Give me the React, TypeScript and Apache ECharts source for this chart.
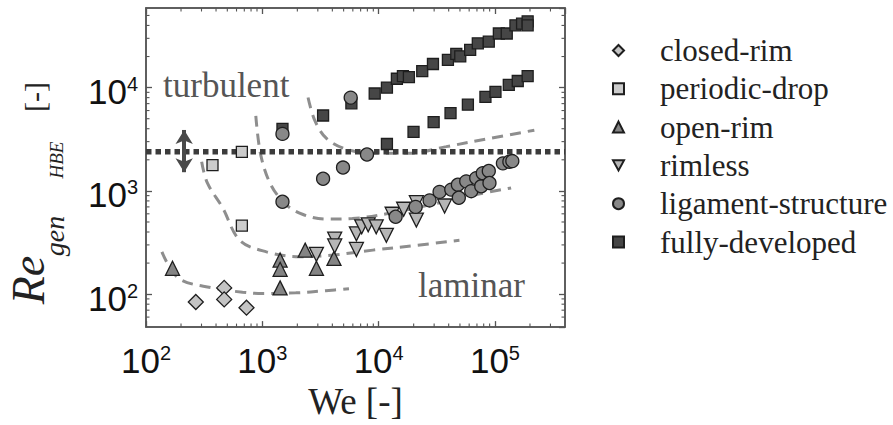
import { useEffect, useRef } from "react";
import * as echarts from "echarts";

// ---- data (We, Re_gen HBE) ----
const closedRimWe = [268, 470, 470, 731];
const closedRimRe = [84, 115, 89, 74];

const periodicDropWe = [373, 667, 667];
const periodicDropRe = [1780, 2390, 461];

const openRimWe = [169, 1422, 1422, 1422, 2335, 2918, 4130];
const openRimRe = [178, 214, 174, 115, 267, 178, 222];

const rimlessWe = [2918, 4190, 4190, 6440, 6440, 7150, 8130, 9530, 11650, 13060, 16400, 21100, 21100, 36900];
const rimlessRe = [243, 341, 293, 384, 271, 449, 469, 449, 371, 594, 664, 769, 521, 714];

const ligamentWe = [1490, 1490, 3330, 4940, 5750, 7940, 14000, 20800, 27400, 33400, 42100, 48000, 48900, 56600, 62500, 69000, 76200, 78600, 88500, 89700, 117000, 133000, 141000];
const ligamentRe = [3565, 785, 1310, 1683, 8000, 2250, 562, 700, 809, 978, 1029, 1148, 858, 1237, 994, 1330, 1108, 1484, 1560, 1192, 1848, 1918, 1944];

const fullyWe = [1490, 3330, 5830, 9250, 11780, 14350, 16170, 18200, 23700, 29300, 39400, 46500, 50300, 61200, 71200, 88500, 108000, 126300, 150000, 171000, 191000, 191000,
  11780, 19950, 29700, 41500, 58500, 82800, 101000, 131500, 157000, 191000];
const fullyRe = [3980, 5370, 7050, 8770, 10000, 12180, 12900, 12640, 14430, 16930, 18600, 21250, 20060, 23180, 26830, 27860, 33400, 33400, 40090, 41600, 43800, 40100,
  2845, 3728, 4640, 5650, 6840, 8150, 9100, 10620, 11590, 12900];

// guide curves (dashed)
const curve1We = [137, 190, 374, 676, 1004, 1942, 3510, 5560];
const curve1Re = [257, 143, 115, 104.5, 101.6, 103, 108, 113];
const curve2We = [301, 336, 455, 641, 1086, 2099, 4056, 8930, 21070, 49500];
const curve2Re = [1918, 1200, 689, 332, 257, 230, 239, 267, 297, 332];
const curve3We = [879, 970, 1183, 1592, 2213, 3510, 5940, 13270, 33430, 69000, 137700];
const curve3Re = [5330, 2218, 1148, 741, 594, 533, 540, 617, 769, 922, 1068];
const curve4We = [2472, 2824, 3560, 5280, 9550, 18450, 38100, 89700, 218000];
const curve4Re = [8030, 4820, 3220, 2530, 2316, 2316, 2683, 3220, 3870];

// critical Reynolds line and arrow
const criticalRe = 2400;
const criticalLineWe = [100, 400000];
const arrowWe = 213;
const arrowRe = [3890, 1517];

// axes
const xMin = 100, xMax = 400000;
const yMin = 48, yMax = 59000;
const xMinorTicks = [200, 300, 400, 500, 600, 700, 800, 900, 2000, 3000, 4000, 5000, 6000, 7000, 8000, 9000,
  20000, 30000, 40000, 50000, 60000, 70000, 80000, 90000, 200000, 300000];
const yMinorTicks = [60, 70, 80, 90, 200, 300, 400, 500, 600, 700, 800, 900, 2000, 3000, 4000, 5000, 6000, 7000, 8000, 9000,
  20000, 30000, 40000, 50000];

const zip = (xs: number[], ys: number[]) => xs.map((x, i) => [x, ys[i]]);

const AX = "#555";
const BORDER = "#1e1e1e";

const powLabel = (v: number) => {
  const l = Math.log10(v);
  const e = Math.round(l);
  if (Math.abs(l - e) > 1e-6) return "";
  return `{b|10}{s|${e}}`;
};
const richLabel = {
  b: { fontSize: 35, fontFamily: "Liberation Sans", color: "#111" },
  s: { fontSize: 20, fontFamily: "Liberation Sans", color: "#111", verticalAlign: "top" as const },
};

function scatter(name: string, we: number[], re: number[], symbol: string, size: number, color: string, z = 3) {
  return {
    name,
    type: "scatter",
    data: zip(we, re),
    symbol,
    symbolSize: size,
    z,
    itemStyle: { color, borderColor: BORDER, borderWidth: 1.3, opacity: 1 },
  };
}

function dashed(we: number[], re: number[]) {
  return {
    type: "line",
    data: zip(we, re),
    smooth: 0.35,
    showSymbol: false,
    symbol: "none",
    silent: true,
    z: 1,
    lineStyle: { color: "#8e8e8e", width: 3, type: [11, 7] },
  };
}

export default function App() {
  const ref = useRef<HTMLDivElement>(null);
  useEffect(() => {
    const chart = echarts.init(ref.current!, null, { renderer: "svg" });
    const minorData = [
      ...xMinorTicks.map((v) => [v, 1000, 0]),
      ...yMinorTicks.map((v) => [1000, v, 1]),
    ];
    const option: any = {
      animation: false,
      backgroundColor: "#fff",
      grid: { left: 146, right: 328, top: 8, bottom: 93.5, show: true, borderColor: AX, borderWidth: 1.5, backgroundColor: "transparent" },
      xAxis: [
        {
          type: "log", logBase: 10, min: xMin, max: xMax, position: "bottom",
          axisLine: { show: true, lineStyle: { color: AX, width: 1.5 } },
          axisTick: { show: true, inside: true, length: 6, lineStyle: { color: AX, width: 1.3 } },
          splitLine: { show: false },
          axisLabel: { formatter: powLabel, rich: richLabel, margin: 16, showMinLabel: true, showMaxLabel: false },
          name: "We [-]", nameLocation: "middle", nameGap: 51,
          nameTextStyle: { fontFamily: "Liberation Serif", fontSize: 37, color: "#222" },
        },
        {
          type: "log", logBase: 10, min: xMin, max: xMax, position: "top",
          axisLine: { show: true, lineStyle: { color: AX, width: 1.5 } },
          axisTick: { show: true, inside: true, length: 6, lineStyle: { color: AX, width: 1.3 } },
          splitLine: { show: false }, axisLabel: { show: false },
        },
      ],
      yAxis: [
        {
          type: "log", logBase: 10, min: yMin, max: yMax, position: "left",
          axisLine: { show: true, lineStyle: { color: AX, width: 1.5 } },
          axisTick: { show: true, inside: true, length: 6, lineStyle: { color: AX, width: 1.3 } },
          splitLine: { show: false },
          axisLabel: { formatter: powLabel, rich: richLabel, margin: 8, padding: [8, 0, 0, 0], showMinLabel: false, showMaxLabel: false },
        },
        {
          type: "log", logBase: 10, min: yMin, max: yMax, position: "right",
          axisLine: { show: true, lineStyle: { color: AX, width: 1.5 } },
          axisTick: { show: true, inside: true, length: 6, lineStyle: { color: AX, width: 1.3 } },
          splitLine: { show: false }, axisLabel: { show: false },
        },
      ],
      legend: {
        show: true,
        orient: "vertical",
        left: 607,
        top: 30,
        itemWidth: 11,
        itemHeight: 11,
        itemGap: 7.3,
        data: ["closed-rim", "periodic-drop", "open-rim", "rimless", "ligament-structure", "fully-developed"],
        textStyle: { fontFamily: "Liberation Serif", fontSize: 31, lineHeight: 31, color: "#222", padding: [0, 0, 0, 31] },
        selectedMode: false,
      },
      graphic: [
        { type: "text", left: 163, top: 68, style: { text: "turbulent", font: "35px 'Liberation Serif'", fill: "#555" } },
        { type: "text", left: 418, top: 268, style: { text: "laminar", font: "35px 'Liberation Serif'", fill: "#555" } },
        { type: "text", x: 28, y: 280, rotation: Math.PI / 2, style: { text: "Re", font: "italic 46px 'Liberation Serif'", fill: "#222", align: "center", verticalAlign: "middle" } },
        { type: "text", x: 54, y: 236, rotation: Math.PI / 2, style: { text: "gen", font: "italic 28px 'Liberation Serif'", fill: "#222", align: "center", verticalAlign: "middle" } },
        { type: "text", x: 56, y: 160, rotation: Math.PI / 2, style: { text: "HBE", font: "italic 19px 'Liberation Serif'", fill: "#222", align: "center", verticalAlign: "middle" } },
        { type: "text", x: 34, y: 97, rotation: Math.PI / 2, style: { text: "[-]", font: "30px 'Liberation Serif'", fill: "#222", align: "center", verticalAlign: "middle" } },
      ],
      series: [
        dashed(curve1We, curve1Re),
        dashed(curve2We, curve2Re),
        dashed(curve3We, curve3Re),
        dashed(curve4We, curve4Re),
        {
          type: "line",
          data: criticalLineWe.map((w) => [w, criticalRe]),
          showSymbol: false, symbol: "none", silent: true, z: 2,
          lineStyle: { color: "#3c3c3c", width: 5.5, type: [5.5, 4], cap: "butt" },
          markLine: {
            silent: true,
            symbol: ["arrow", "arrow"],
            symbolSize: [13, 14],
            label: { show: false },
            lineStyle: { color: "#4a4a4a", width: 4, type: "solid" },
            data: [[{ coord: [arrowWe, arrowRe[0]] }, { coord: [arrowWe, arrowRe[1]] }]],
          },
        },
        scatter("closed-rim", closedRimWe, closedRimRe, "diamond", 15, "#c4c4c4"),
        scatter("periodic-drop", periodicDropWe, periodicDropRe, "rect", 11, "#cccccc"),
        scatter("open-rim", openRimWe, openRimRe, "triangle", 14, "#848484"),
        scatter("rimless", rimlessWe, rimlessRe, "path://M0,0L12,0L6,11Z", 14, "#b6b6b6"),
        scatter("ligament-structure", ligamentWe, ligamentRe, "circle", 13, "#888888", 4),
        scatter("fully-developed", fullyWe, fullyRe, "rect", 11, "#464646"),
        {
          type: "custom",
          silent: true,
          z: 5,
          clip: false,
          data: minorData,
          renderItem: (params: any, api: any) => {
            const cs = params.coordSys;
            const side = api.value(2);
            const L = 3.5;
            const st = { stroke: AX, lineWidth: 1.1 };
            if (side === 0) {
              const px = api.coord([api.value(0), 1000])[0];
              return {
                type: "group",
                children: [
                  { type: "line", shape: { x1: px, y1: cs.y + cs.height, x2: px, y2: cs.y + cs.height - L }, style: st },
                  { type: "line", shape: { x1: px, y1: cs.y, x2: px, y2: cs.y + L }, style: st },
                ],
              };
            }
            const py = api.coord([1000, api.value(1)])[1];
            return {
              type: "group",
              children: [
                { type: "line", shape: { x1: cs.x, y1: py, x2: cs.x + L, y2: py }, style: st },
                { type: "line", shape: { x1: cs.x + cs.width, y1: py, x2: cs.x + cs.width - L, y2: py }, style: st },
              ],
            };
          },
        },
      ],
    };
    chart.setOption(option);
    return () => chart.dispose();
  }, []);
  return (
    <div
      ref={ref}
      style={{ position: "fixed", left: 0, top: 0, width: 893, height: 425, background: "#fff" }}
    />
  );
}
